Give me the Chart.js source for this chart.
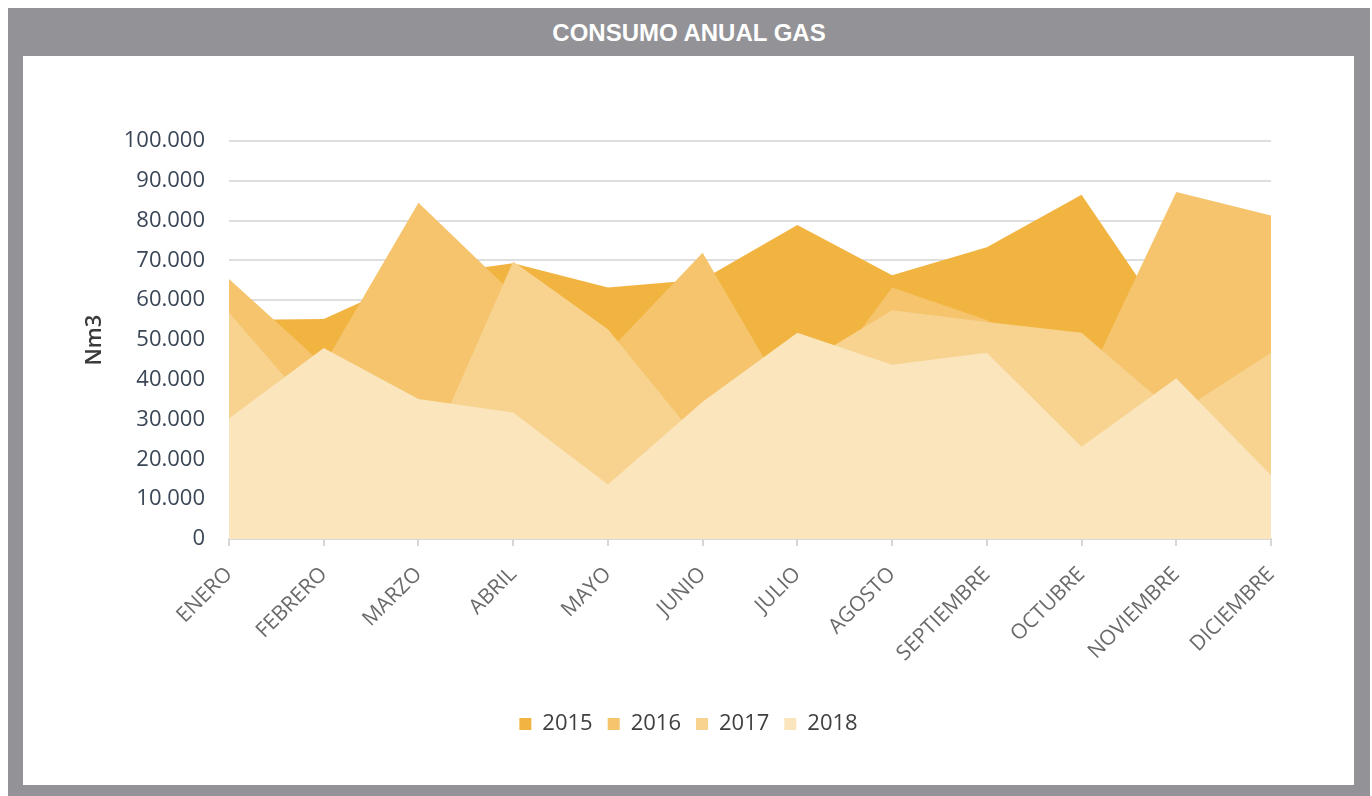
<!DOCTYPE html>
<html>
<head>
<meta charset="utf-8">
<script src="https://cdn.jsdelivr.net/npm/chart.js@4.4.0/dist/chart.umd.min.js"></script>
<style>
  html, body { margin: 0; padding: 0; background: #fff; }
  #frame {
    position: absolute; left: 8px; top: 8px; width: 1362px; height: 788px;
    background: #939397;
  }
  #title {
    position: absolute; left: 0; top: 0; width: 100%; height: 48px;
    text-align: center; color: #fff;
    font: bold 24px "Liberation Sans", Arial, sans-serif;
    line-height: 50px;
  }
  #panel {
    position: absolute; left: 15px; top: 48px; width: 1331px; height: 729px;
    background: #fff;
  }
</style>
</head>
<body>
<div id="frame">
  <div id="title">CONSUMO ANUAL GAS</div>
  <div id="panel"><canvas id="gasChart" width="1331" height="729"></canvas></div>
</div>
<script>
const months = ["ENERO", "FEBRERO", "MARZO", "ABRIL", "MAYO", "JUNIO", "JULIO",
  "AGOSTO", "SEPTIEMBRE", "OCTUBRE", "NOVIEMBRE", "DICIEMBRE"];
const years = ["2015", "2016", "2017", "2018"];
const gas2015 = [55000, 55300, 66000, 69300, 63200, 65200, 78900, 66300, 73300, 86500, 51500, 58000];
const gas2016 = [65300, 43700, 84500, 61600, 47000, 71900, 31000, 63200, 55000, 36900, 87200, 81300];
const gas2017 = [56900, 29400, 15500, 69700, 52700, 23500, 43000, 57500, 54500, 51800, 31400, 46800];
const gas2018 = [30300, 48000, 35200, 31800, 13700, 34500, 51800, 43800, 46800, 23200, 40400, 16000];
const colors = ["#F2B440", "#F5C46C", "#F8D390", "#FAE5BC"];

const series = [gas2015, gas2016, gas2017, gas2018];

const fmt = (v) => String(v).replace(/\B(?=(\d{3})+(?!\d))/g, ".");

new Chart(document.getElementById("gasChart"), {
  type: "line",
  data: {
    labels: months,
    datasets: series.map((vals, i) => ({
      label: years[i],
      data: vals,
      backgroundColor: colors[i],
      borderColor: colors[i],
      borderWidth: 0,
      pointRadius: 0,
      fill: "origin",
      tension: 0,
      order: series.length - 1 - i, // 2018 drawn on top
    })),
  },
  options: {
    responsive: false,
    animation: false,
    layout: { padding: { left: 83, right: 83, top: 85, bottom: 40 } },
    plugins: {
      tooltip: { enabled: false },
      legend: {
        position: "bottom",
        reverse: true,
        labels: {
          boxWidth: 12,
          boxHeight: 12,
          padding: 15,
          color: "#404040",
          font: { family: "'Open Sans'", size: 22 },
        },
      },
    },
    scales: {
      x: {
        offset: false,
        afterFit: (scale) => { scale.height = 159; },
        grid: { drawOnChartArea: false, drawTicks: true, tickLength: 7, color: "#d6d6d6", lineWidth: 2 },
        border: { color: "#d9d9d9", width: 2 },
        ticks: {
          autoSkip: false,
          maxRotation: 45,
          minRotation: 45,
          padding: 16,
          color: "#6a6a6a",
          font: { family: "'Open Sans'", size: 21 },
        },
      },
      y: {
        min: 0,
        max: 100000,
        afterFit: (scale) => { scale.width = 123; },
        ticks: {
          stepSize: 10000,
          padding: 24,
          color: "#3a4656",
          font: { family: "'Open Sans'", size: 22 },
          callback: (v) => fmt(v),
        },
        grid: { color: "#dedede", lineWidth: 2, drawTicks: false },
        border: { display: false },
        title: {
          display: true,
          text: "Nm3",
          color: "#3a3a3a",
          font: { family: "'Open Sans'", size: 22, weight: "600" },
          padding: { top: -24, bottom: 0 },
        },
      },
    },
  },
});
</script>
</body>
</html>
